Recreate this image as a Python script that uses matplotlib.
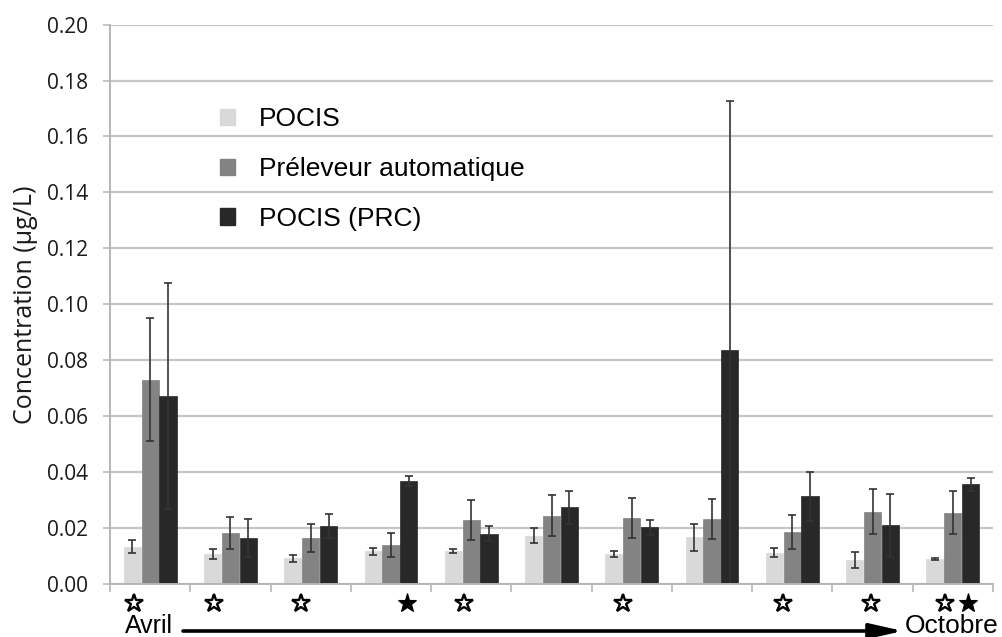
import numpy as np
import matplotlib
matplotlib.use("Agg")
import matplotlib.pyplot as plt
from matplotlib.patches import Patch

# concentrations per sampling campaign (Avril -> Octobre), ug/L
pocis = [0.0135, 0.0108, 0.0093, 0.0118, 0.0119, 0.0174, 0.0108, 0.0168, 0.0113, 0.0088, 0.0090]
pocis_err = [0.0022, 0.0018, 0.0012, 0.0012, 0.0007, 0.0027, 0.0011, 0.0048, 0.0015, 0.0028, 0.0003]
preleveur = [0.0731, 0.0183, 0.0165, 0.0140, 0.0231, 0.0245, 0.0236, 0.0233, 0.0186, 0.0260, 0.0256]
preleveur_err = [0.0220, 0.0057, 0.0050, 0.0044, 0.0072, 0.0074, 0.0072, 0.0072, 0.0060, 0.0080, 0.0078]
prc = [0.0674, 0.0165, 0.0208, 0.0370, 0.0181, 0.0275, 0.0204, 0.0838, 0.0315, 0.0211, 0.0358]
prc_err = [0.0404, 0.0069, 0.0042, 0.0018, 0.0028, 0.0058, 0.0027, 0.0889, 0.0088, 0.0113, 0.0023]

labels = ["POCIS", "Préleveur automatique", "POCIS (PRC)"]
colors = ["#d9d9d9", "#838383", "#282828"]

# stars under the groups: (group index, shift inside the group)
open_stars = [(0, -0.2), (1, -0.2), (2, -0.12), (4, -0.09), (6, -0.11), (8, -0.11), (9, -0.02), (10, -0.1)]
filled_stars = [(3, 0.2), (10, 0.19)]

fig = plt.figure(figsize=(10.02, 6.37), dpi=100)
ax = fig.add_axes([0.1098, 0.0827, 0.8812, 0.8788])

x = np.arange(len(pocis))
w = 0.215
series = [(pocis, pocis_err), (preleveur, preleveur_err), (prc, prc_err)]
for i, (vals, errs) in enumerate(series):
    ax.bar(x + (i - 1) * 0.222, vals, w, yerr=errs, color=colors[i],
           edgecolor=colors[i], linewidth=0.5,
           error_kw=dict(ecolor="#333333", elinewidth=1.2, capsize=2.8, capthick=1.2))

ax.set_xlim(-0.5, len(pocis) - 0.5)
ax.set_ylim(0, 0.20)
ax.set_yticks(np.arange(0, 0.201, 0.02))
ax.set_yticklabels([f"{v:.2f}" for v in np.arange(0, 0.201, 0.02)],
                   family="Open Sans", fontsize=15, color="#1a1a1a")
ax.set_xticks(np.arange(-0.5, len(pocis), 1))
ax.set_xticklabels([])
ax.tick_params(axis="x", length=6, width=1.2, color="#b5b5b5")
ax.tick_params(axis="y", length=5, width=1.4, color="#c6c6c6", pad=11)

ax.yaxis.grid(True, color="#c6c6c6", linewidth=1.6)
ax.set_axisbelow(True)
for s in ["top", "right"]:
    ax.spines[s].set_visible(False)
ax.spines["left"].set_color("#b5b5b5")
ax.spines["left"].set_linewidth(1.4)
ax.spines["bottom"].set_color("#b5b5b5")
ax.spines["bottom"].set_linewidth(1.4)

ax.set_ylabel("Concentration (µg/L)", family="Open Sans", fontsize=18,
              color="#1a1a1a", labelpad=6)

sx = [g + dx for g, dx in open_stars]
ax.plot(sx, [-0.0067] * len(sx), ls="none", marker="*", markersize=13.5,
        mfc="white", mec="black", mew=1.7, clip_on=False)
fx = [g + dx for g, dx in filled_stars]
ax.plot(fx, [-0.0067] * len(fx), ls="none", marker="*", markersize=14,
        mfc="black", mec="black", mew=0.8, clip_on=False)

handles = [Patch(facecolor=c, edgecolor=c) for c in colors]
ax.legend(handles, labels, loc="upper left", bbox_to_anchor=(0.124, 0.852),
          frameon=False, prop=dict(family="Liberation Sans", size=19),
          handlelength=0.6, handleheight=0.6, handletextpad=0.9,
          labelspacing=0.98, borderpad=0, borderaxespad=0)

# season arrow under the axis
fig.text(125 / 1002, 4 / 637, "Avril", family="Liberation Sans", fontsize=18,
         ha="left", va="baseline")
fig.text(998 / 1002, 4 / 637, "Octobre", family="Liberation Sans", fontsize=19,
         ha="right", va="baseline")
ax.annotate("", xy=(903, 6), xytext=(183, 6), xycoords="figure pixels",
            textcoords="figure pixels",
            arrowprops=dict(arrowstyle="-|>,head_length=2.0,head_width=0.45",
                            lw=2.6, color="black", shrinkA=0, shrinkB=0))

fig.savefig("out.png", dpi=100)
